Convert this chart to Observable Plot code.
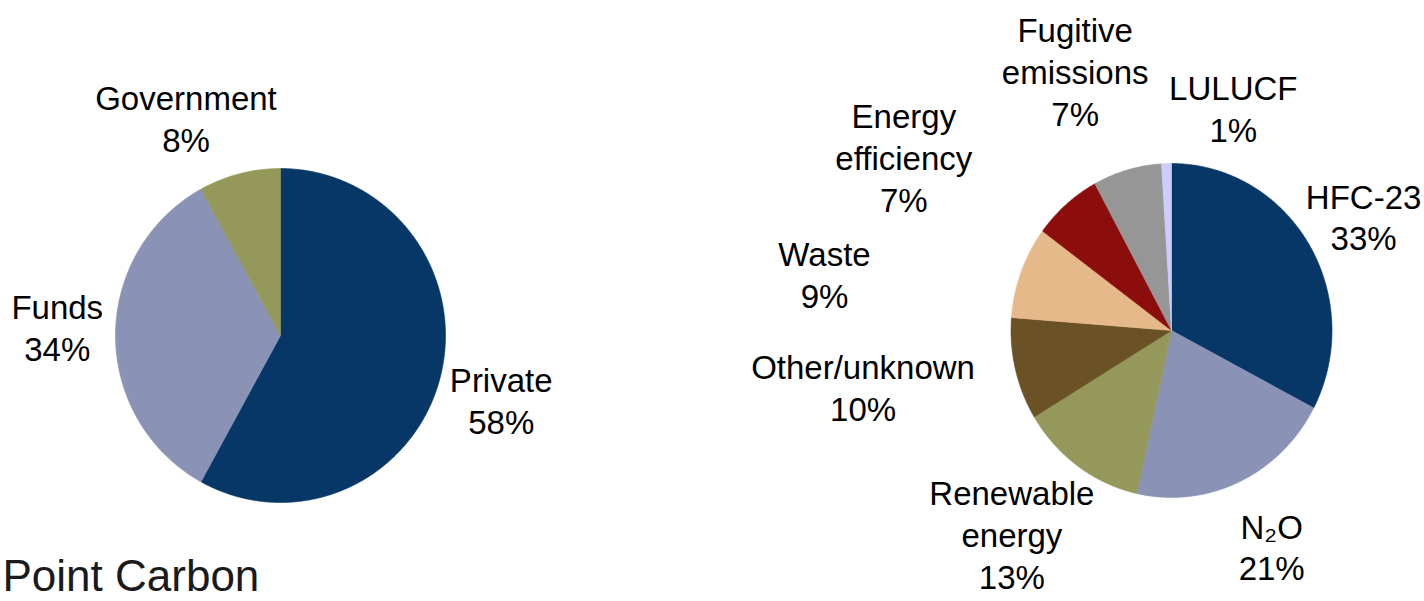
<!DOCTYPE html>
<html>
<head>
<meta charset="utf-8">
<script src="https://cdn.jsdelivr.net/npm/d3@7"></script>
<script src="https://cdn.jsdelivr.net/npm/@observablehq/plot@0.6"></script>
<style>
  html, body { margin: 0; padding: 0; background: #fff; overflow: hidden; }
  #chart { width: 1424px; height: 601px; overflow: hidden; }
</style>
</head>
<body>
<div id="chart"></div>
<script>
// ---- data ----
const fundingSources = ["Private", "Funds", "Government"];
const fundingShares = [58, 34, 8];

const projectTypes = ["HFC-23", "N₂O", "Renewable energy", "Other/unknown", "Waste", "Energy efficiency", "Fugitive emissions", "LULUCF"];
const projectShares = [33, 21, 13, 10, 9, 7, 7, 1];

const sourceLine = "Point Carbon";

// ---- styling ----
const fundingColors = ["#073766", "#8a93b5", "#95985b"];
const projectColors = ["#073766", "#8a93b5", "#95985b", "#6b5126", "#e6b98a", "#8b0d0c", "#969696", "#ccccff"];

// ---- layout ----
const W = 1424, H = 601;
const pies = [
  {names: fundingSources, values: fundingShares, colors: fundingColors, cx: 280, cy: 335, rx: 165, ry: 167, k: 1.45,
   nudge: {"Private": [-11, 4], "Funds": [16, -9], "Government": [-35, 17]}},
  {names: projectTypes, values: projectShares, colors: projectColors, cx: 1171, cy: 330, rx: 160.5, ry: 167, k: 1.45,
   nudge: {"HFC-23": [-7, 11], "N₂O": [2, -4], "Renewable energy": [-24, 6], "Other/unknown": [-82, 0],
           "Waste": [-129, 28], "Energy efficiency": [-115, 9], "Fugitive emissions": [-32, -27], "LULUCF": [69, 19]}}
];

const slicePts = [];
const labels = [];
pies.forEach((p, pi) => {
  const total = d3.sum(p.values);
  let cum = 0;
  p.values.forEach((v, i) => {
    const a0 = cum / total * 2 * Math.PI;
    cum += v;
    const a1 = cum / total * 2 * Math.PI;
    const key = pi + ":" + p.names[i];
    const color = p.colors[i];
    slicePts.push({key, color, x: p.cx, y: p.cy});
    const n = Math.max(2, Math.ceil((a1 - a0) / (Math.PI / 360)));
    for (let j = 0; j <= n; j++) {
      const a = a0 + (a1 - a0) * j / n;
      slicePts.push({key, color, x: p.cx + p.rx * Math.sin(a), y: p.cy - p.ry * Math.cos(a)});
    }
    slicePts.push({key, color, x: p.cx, y: p.cy});
    const mid = (a0 + a1) / 2;
    const nd = p.nudge[p.names[i]] || [0, 0];
    labels.push({
      x: p.cx + p.rx * p.k * Math.sin(mid) + nd[0],
      y: p.cy - p.ry * p.k * Math.cos(mid) + nd[1],
      text: p.names[i].replace(" ", "\n") + "\n" + v + "%"
    });
  });
});

const chart = Plot.plot({
  width: W,
  height: H,
  margin: 0,
  x: {domain: [0, W], axis: null},
  y: {domain: [0, H], reverse: true, axis: null},
  color: {type: "identity"},
  style: {background: "#fff", fontFamily: "'Liberation Sans', Arial, sans-serif", overflow: "hidden"},
  marks: [
    Plot.line(slicePts, {x: "x", y: "y", z: "key", fill: "color", stroke: "color", strokeWidth: 0.6, curve: "linear"}),
    Plot.text(labels, {x: "x", y: "y", text: "text", fontSize: 33, lineHeight: 1.27, fill: "#000", textAnchor: "middle", lineAnchor: "middle"}),
    Plot.text([sourceLine], {frameAnchor: "bottom-left", text: d => d, fontSize: 44, fill: "#1a1a1a", textAnchor: "start", lineAnchor: "bottom", dx: 2, dy: -11})
  ]
});
document.getElementById("chart").appendChild(chart);
</script>
</body>
</html>
